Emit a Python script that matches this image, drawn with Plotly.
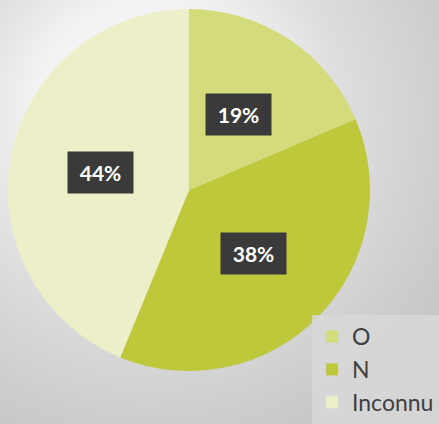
import base64
import math
import plotly.graph_objects as go

labels = ["O", "N", "Inconnu"]
values = [18.6, 37.6, 43.8]
colors = ["#d4db7b", "#bdc83a", "#ecefc8"]

W, H = 439, 424

svg = f"""<svg xmlns='http://www.w3.org/2000/svg' width='{W}' height='{H}' viewBox='0 0 {W} {H}' preserveAspectRatio='none'>
<defs><radialGradient id='g' gradientUnits='userSpaceOnUse' cx='150' cy='120' r='430'>
<stop offset='0' stop-color='#ffffff'/>
<stop offset='0.28' stop-color='#f2f2f2'/>
<stop offset='0.45' stop-color='#dedede'/>
<stop offset='0.70' stop-color='#cdcdcd'/>
<stop offset='1' stop-color='#bcbcbc'/>
</radialGradient></defs>
<rect width='{W}' height='{H}' fill='url(#g)'/></svg>"""
bg_src = "data:image/svg+xml;base64," + base64.b64encode(svg.encode()).decode()

# pie geometry (paper fractions)
dom_x = [8 / W, 370 / W]
dom_y = [1 - 371 / H, 1 - 9 / H]

fig = go.Figure(go.Pie(
    labels=labels,
    values=values,
    sort=False,
    direction="clockwise",
    rotation=0,
    marker=dict(colors=colors, line=dict(width=0)),
    textinfo="none",
    hoverinfo="label+percent",
    domain=dict(x=dom_x, y=dom_y),
))

# label boxes placed at half radius along each slice's mid-angle
cx_px = (dom_x[0] + dom_x[1]) / 2 * W
cy_px = (1 - (dom_y[0] + dom_y[1]) / 2) * H
r_px = min((dom_x[1] - dom_x[0]) * W, (dom_y[1] - dom_y[0]) * H) / 2
total = sum(values)
cum = 0.0
annotations = []
for lab, v in zip(labels, values):
    mid = (cum + v / 2) / total * 2 * math.pi
    cum += v
    px = cx_px + 0.5 * r_px * math.sin(mid)
    py = cy_px - 0.5 * r_px * math.cos(mid)
    annotations.append(dict(
        x=px / W, y=1 - py / H, xref="paper", yref="paper",
        text=f"<b>{round(v / total * 100)}%</b>", showarrow=False,
        font=dict(family="Lato", size=21, color="#ffffff"),
        bgcolor="#3a3a3a", borderpad=8, width=49, height=25,
        xanchor="center", yanchor="middle",
    ))

fig.update_layout(
    width=W, height=H,
    margin=dict(l=0, r=0, t=0, b=0),
    paper_bgcolor="rgba(0,0,0,0)",
    plot_bgcolor="rgba(0,0,0,0)",
    images=[dict(source=bg_src, xref="paper", yref="paper", x=0, y=1,
                 sizex=1, sizey=1, sizing="stretch", layer="below",
                 xanchor="left", yanchor="top")],
    annotations=annotations,
    showlegend=True,
    legend=dict(
        x=1, y=0, xanchor="right", yanchor="bottom",
        bgcolor="rgba(216,216,216,0.85)",
        font=dict(family="Lato", size=23, color="#404040"),
        itemwidth=30, tracegroupgap=0,
    ),
)

fig.write_html("out.html", config={"displayModeBar": False},
               post_script="document.body.style.margin='0';")
